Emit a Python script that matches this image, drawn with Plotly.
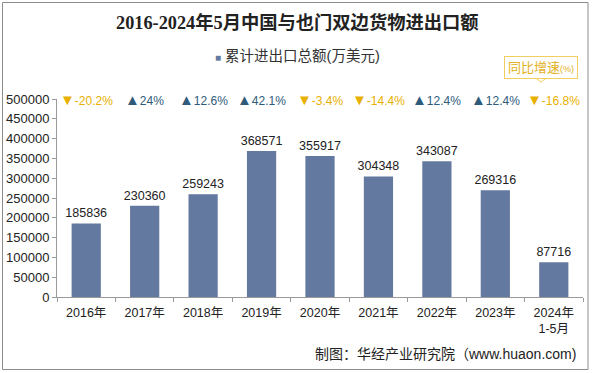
import plotly.graph_objects as go

categories = ["2016年", "2017年", "2018年", "2019年", "2020年", "2021年", "2022年", "2023年", "2024年<br>1-5月"]
values = [185836, 230360, 259243, 368571, 355917, 304348, 343087, 269316, 87716]
growth = [-20.2, 24, 12.6, 42.1, -3.4, -14.4, 12.4, 12.4, -16.8]
y_ticks = [0, 50000, 100000, 150000, 200000, 250000, 300000, 350000, 400000, 450000, 500000]

W, H = 595, 373
L, R, T, B = 57, 12, 99, 76
PW, PH = W - L - R, H - T - B

def px(x):
    return (x - L) / PW

def py(y):
    return (H - B - y) / PH

BAR = "#64799F"
UP = "#2E5B7B"
DOWN = "#E8B000"
FONT = "Liberation Sans, Arial, Noto Sans CJK SC, sans-serif"

fig = go.Figure()
fig.add_trace(go.Bar(
    x=categories, y=values, marker=dict(color=BAR, line=dict(width=0)),
    width=0.5, text=[str(v) for v in values], textposition="outside",
    constraintext="none",
    textfont=dict(size=12.5, color="#222222", family=FONT), cliponaxis=False,
    name="累计进出口总额(万美元)", showlegend=False,
))

annotations = []
for c, g in zip(categories, growth):
    if g < 0:
        sym, col = "▼", DOWN
    else:
        sym, col = "▲", UP
    txt = f"<span style='font-size:15px'>{sym}</span>{g:g}%"
    annotations.append(dict(x=c, xref="x", y=1.0, yref="paper", text=txt, showarrow=False,
                            font=dict(size=12, color=col, family=FONT), yanchor="middle"))

annotations.append(dict(x=px(297), xref="paper", y=py(22), yref="paper",
                        text="<b>2016-2024年5月中国与也门双边货物进出口额</b>", showarrow=False,
                        xanchor="center", yanchor="middle",
                        font=dict(size=18.3, color="#222222", family="Liberation Serif, Noto Sans CJK SC, serif")))
annotations.append(dict(x=px(297), xref="paper", y=py(56), yref="paper",
                        text=f"<span style='color:{BAR};font-size:10px'>■</span> 累计进出口总额(万美元)",
                        showarrow=False, xanchor="center", yanchor="middle",
                        font=dict(size=14.5, color="#333333", family=FONT)))
annotations.append(dict(x=px(541), xref="paper", y=py(67), yref="paper",
                        text="同比增速<span style='font-size:9px'>(%)</span>", showarrow=False,
                        xanchor="center", yanchor="middle", bgcolor="white",
                        bordercolor="#F0CF60", borderwidth=1, borderpad=3,
                        font=dict(size=13, color="#E2B020", family=FONT)))
annotations.append(dict(x=px(578), xref="paper", y=py(354), yref="paper",
                        text="制图：华经产业研究院（www.huaon.com)", showarrow=False,
                        xanchor="right", yanchor="middle",
                        font=dict(size=14, color="#222222", family=FONT)))

shapes = [
    dict(type="rect", xref="paper", yref="paper", x0=px(2.5), x1=px(588), y0=py(369.5), y1=py(2.5),
         line=dict(color="#8C8C8C", width=1), fillcolor="rgba(0,0,0,0)", layer="below"),
    dict(type="path", xref="paper", yref="paper",
         path=f"M {px(535)} {py(77.5)} L {px(541)} {py(82)} L {px(547)} {py(77.5)}",
         line=dict(color="#F0CF60", width=1), fillcolor="white"),
]

fig.update_layout(
    width=W, height=H, margin=dict(l=L, r=R, t=T, b=B, autoexpand=False),
    paper_bgcolor="white", plot_bgcolor="white", bargap=0.5,
    annotations=annotations, shapes=shapes, showlegend=False,
    xaxis=dict(showgrid=False, showline=True, linecolor="#9A9A9A", linewidth=1,
               ticks="outside", tickson="boundaries", ticklen=4, tickcolor="#9A9A9A",
               ticklabelstandoff=4,
               tickfont=dict(size=12.5, color="#222222", family=FONT)),
    yaxis=dict(range=[0, 500000], tickvals=y_ticks, ticktext=[str(v) for v in y_ticks],
               showgrid=False, showline=True, linecolor="#9A9A9A", linewidth=1,
               ticks="outside", ticklen=4, tickcolor="#9A9A9A", zeroline=False,
               tickfont=dict(size=13, color="#222222", family=FONT)),
)

fig.write_html("out.html", config={"displayModeBar": False},
               post_script="document.body.style.margin='0';document.body.style.padding='0';")
